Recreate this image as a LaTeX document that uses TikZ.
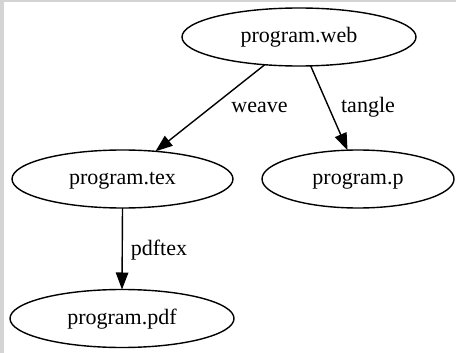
\documentclass[tikz,border=0pt]{standalone}
\usepackage{fontspec}
\setmainfont{Liberation Serif}
\usetikzlibrary{shapes.geometric,arrows.meta}
\definecolor{frame}{RGB}{212,212,212}
\tikzset{
  file/.style={ellipse, draw, line width=1.4pt, inner sep=0pt, outer sep=0pt,
    minimum height=58pt, font=\fontsize{22pt}{26pt}\selectfont,
    text height=15pt, text depth=3pt},
  lbl/.style={inner sep=0pt, font=\fontsize{22pt}{26pt}\selectfont,
    text height=15pt, text depth=3pt},
  edge/.style={line width=1.4pt, -{Triangle[length=17pt,width=12.5pt]}}
}
\begin{document}
\begin{tikzpicture}[x=1pt, y=-1pt]
  % canvas with a grey rim on the top and left
  \fill[frame] (0,0) rectangle (456,353);
  \fill[white] (4,2) rectangle (456,353);
  \useasboundingbox (0,0) rectangle (456,353);

  % files
  \node[file, minimum width=234pt] (web) at (299,37) {program.web};
  \node[file, minimum width=221pt] (tex) at (122.5,179) {program.tex};
  \node[file, minimum width=192pt] (p)   at (358,179) {program.p};
  \node[file, minimum width=224pt] (pdf) at (122,318.5) {program.pdf};

  % tools
  \draw[edge] (web.219.6) -- (tex.40.5);
  \draw[edge] (web.292.5) -- (p.110.8);
  \draw[edge] (tex.south) -- (pdf.north);

  \node[lbl] (weave)  at (259.5,107) {weave};
  \node[lbl] (tangle) at (368,107) {tangle};
  \node[lbl] (pdftex) at (159,249) {pdftex};
\end{tikzpicture}
\end{document}
